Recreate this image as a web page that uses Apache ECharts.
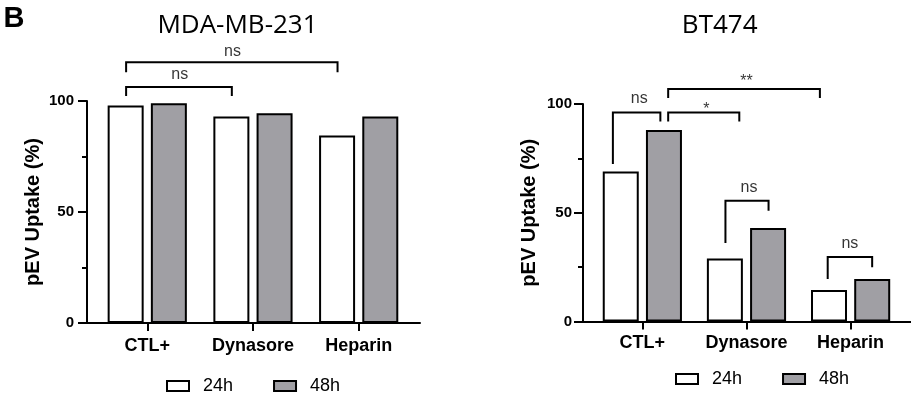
<!DOCTYPE html>
<html>
<head>
<meta charset="utf-8">
<script src="https://cdn.jsdelivr.net/npm/echarts@6/dist/echarts.min.js"></script>
<style>
  html, body { margin: 0; padding: 0; background: #fff; }
  #chart { width: 911px; height: 399px; }
</style>
</head>
<body>
<div id="chart"></div>
<script>
// Treatments and time points
const categories = ['CTL+', 'Dynasore', 'Heparin'];
const timePoints = ['24h', '48h'];

// pEV uptake (%) per cell line
const mdaUptake24h = [98, 93, 84.5];
const mdaUptake48h = [99, 94.5, 93];
const btUptake24h = [69, 29, 14.5];
const btUptake48h = [88, 43, 19.5];

// Y axis ticks
const yMajorTicks = [0, 50, 100];

// Significance brackets, x in category units (0 = CTL+), y in uptake %
const mdaBracketSpans = [[-0.2, 0.8], [-0.2, 1.8]];
const mdaBracketTops = [106.3, 117.4];
const mdaBracketLegs = [[102.3, 102.3], [113, 113]];
const mdaBracketText = ['ns', 'ns'];
const mdaBracketTextPos = [[0.307, 112], [0.807, 122.2]];

const btBracketSpans = [[-0.283, 0.173], [0.248, 0.931], [0.248, 1.705], [0.798, 1.212], [1.78, 2.207]];
const btBracketTops = [96.1, 96.1, 106.9, 55.5, 29.6];
const btBracketLegs = [[72.4, 92], [92, 92], [102.8, 102.8], [36.1, 50.9], [19.5, 25]];
const btBracketText = ['ns', '*', '**', 'ns', 'ns'];
const btBracketTextPos = [[-0.03, 102.7], [0.615, 97.2], [1.0, 110.2], [1.024, 61.7], [1.993, 35.8]];

const FONT = '"Liberation Sans", Arial, sans-serif';
const BLACK = '#000';
const GREY = '#a09fa4';

const chart = echarts.init(document.getElementById('chart'), null, { renderer: 'canvas' });

const grids = [
  { left: 87, top: 101, width: 333, height: 222 },
  { left: 583, top: 104, width: 328, height: 217.5 }
];

function xAxisFor(i, labelMargin) {
  return {
    type: 'value', gridIndex: i, min: -0.57, max: 2.58,
    splitLine: { show: false },
    axisLine: { show: true, onZero: false, lineStyle: { color: BLACK, width: 2 } },
    axisTick: { show: true, customValues: [0, 1, 2], length: 8, lineStyle: { color: BLACK, width: 2 } },
    axisLabel: {
      show: true, customValues: [0, 1, 2], margin: labelMargin,
      formatter: v => categories[Math.round(v)],
      color: BLACK, fontFamily: FONT, fontWeight: 'bold', fontSize: 18
    }
  };
}

function yAxisFor(i, labelMargin) {
  return {
    type: 'value', gridIndex: i, min: 0, max: 100, interval: 50,
    splitLine: { show: false },
    axisLine: { show: true, onZero: false, lineStyle: { color: BLACK, width: 2 } },
    axisTick: { show: true, length: 9, lineStyle: { color: BLACK, width: 2 } },
    minorTick: { show: true, splitNumber: 2, length: 5, lineStyle: { color: BLACK, width: 2 } },
    minorSplitLine: { show: false },
    axisLabel: {
      show: true, margin: labelMargin, color: BLACK, fontFamily: FONT, fontWeight: 'bold', fontSize: 15,
      formatter: v => (yMajorTicks.indexOf(v) >= 0 ? String(v) : '')
    },
    name: 'pEV Uptake (%)', nameLocation: 'middle', nameGap: 44, nameRotate: 90,
    nameTextStyle: { color: BLACK, fontFamily: FONT, fontWeight: 'bold', fontSize: 20 }
  };
}

function barSeries(name, values, i, fill) {
  return {
    name: name, type: 'bar', xAxisIndex: i, yAxisIndex: i,
    data: values.map((v, k) => [k, v]),
    barWidth: 36, barGap: '20%',
    itemStyle: { color: fill, borderColor: BLACK, borderWidth: 2 },
    emphasis: { disabled: true }, silent: true
  };
}

function bracketSeries(i, spans, tops, legs, texts, textPos) {
  const out = [];
  spans.forEach((s, k) => {
    out.push({
      type: 'line', xAxisIndex: i, yAxisIndex: i, clip: false, silent: true, z: 5,
      symbol: 'none', showSymbol: false,
      lineStyle: { color: BLACK, width: 2, join: 'miter', cap: 'butt' },
      data: [[s[0], legs[k][0]], [s[0], tops[k]], [s[1], tops[k]], [s[1], legs[k][1]]]
    });
  });
  out.push({
    type: 'scatter', xAxisIndex: i, yAxisIndex: i, clip: false, silent: true, z: 6,
    symbolSize: 1, itemStyle: { color: 'rgba(0,0,0,0)' },
    data: textPos.map((p, k) => [p[0], p[1], texts[k]]),
    label: {
      show: true, position: 'inside', formatter: p => p.value[2],
      color: BLACK, fontFamily: FONT, fontSize: 16, align: 'center', verticalAlign: 'middle'
    }
  });
  return out;
}

const legendBase = {
  data: timePoints, icon: 'rect', itemWidth: 22, itemHeight: 10, itemGap: 40,
  selectedMode: false,
  textStyle: { color: BLACK, fontFamily: FONT, fontSize: 18, padding: [0, 0, 0, 9] }
};

chart.setOption({
  animation: false,
  backgroundColor: '#fff',
  grid: grids,
  xAxis: [xAxisFor(0, 14), xAxisFor(1, 13)],
  yAxis: [yAxisFor(0, 13), yAxisFor(1, 11)],
  legend: [
    Object.assign({ left: 161, top: 372 }, legendBase),
    Object.assign({ left: 670, top: 365 }, legendBase)
  ],
  graphic: [
    { type: 'text', style: { text: 'B', x: 14, y: 19, align: 'center', verticalAlign: 'middle',
      font: 'bold 29px "Liberation Sans", Arial, sans-serif', fill: BLACK } },
    { type: 'text', style: { text: 'MDA-MB-231', x: 237.5, y: 26, align: 'center', verticalAlign: 'middle',
      font: '26px "Open Sans", sans-serif', fill: BLACK } },
    { type: 'text', style: { text: 'BT474', x: 719.7, y: 26, align: 'center', verticalAlign: 'middle',
      font: '26px "Open Sans", sans-serif', fill: BLACK } }
  ],
  series: [
    barSeries(timePoints[0], mdaUptake24h, 0, '#fff'),
    barSeries(timePoints[1], mdaUptake48h, 0, GREY),
    barSeries(timePoints[0], btUptake24h, 1, '#fff'),
    barSeries(timePoints[1], btUptake48h, 1, GREY),
    ...bracketSeries(0, mdaBracketSpans, mdaBracketTops, mdaBracketLegs, mdaBracketText, mdaBracketTextPos),
    ...bracketSeries(1, btBracketSpans, btBracketTops, btBracketLegs, btBracketText, btBracketTextPos)
  ]
});
</script>
</body>
</html>
